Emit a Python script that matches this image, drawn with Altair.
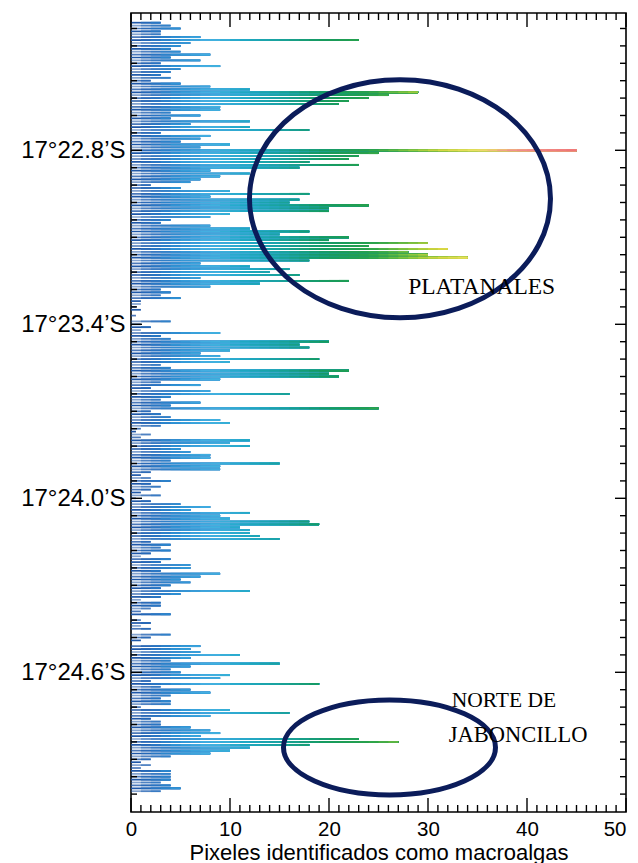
import math
import altair as alt
import pandas as pd

# ---- data -------------------------------------------------------------------
lat_start = 22.36          # minutes of 17°S at first row
lat_step = 0.01            # row spacing (minutes)
values = [
    3, 4, 5, 3, 3, 7, 23, 6, 5, 4,
    5, 8, 4, 7, 3, 9, 5, 4, 3, 4,
    2, 5, 8, 12, 29, 26, 24, 22, 21, 9,
    9, 4, 7, 4, 12, 6, 12, 18, 3, 8,
    7, 5, 10, 7, 45, 25, 23, 22, 18, 23,
    17, 8, 12, 9, 7, 6, 2, 5, 10, 18,
    8, 17, 16, 24, 20, 20, 10, 8, 4, 3,
    8, 12, 18, 15, 22, 20, 30, 24, 32, 28,
    30, 34, 18, 7, 12, 16, 14, 17, 7, 22,
    13, 8, 3, 4, 3, 5, 1, 1, 0.5, 1,
    0, 0.5, 0, 4, 1, 2, 1, 9, 3, 4,
    20, 17, 18, 10, 7, 9, 19, 10, 3, 4,
    22, 20, 21, 9, 3, 7, 2, 8, 16, 4,
    3, 7, 4, 25, 2, 3, 4, 9, 10, 3,
    1, 0.5, 2, 1, 12, 10, 12, 5, 6, 8,
    8, 4, 15, 9, 9, 2, 1, 2, 4, 2,
    3, 2, 1, 3, 0.5, 2, 5, 8, 6, 12,
    9, 10, 18, 19, 11, 12, 12, 13, 15, 2,
    4, 3, 4, 2, 1, 4, 3, 6, 6, 3,
    9, 7, 5, 6, 4, 3, 12, 5, 3, 1,
    3, 3, 2, 1, 4, 0, 1, 2, 1, 2,
    0, 4, 2, 1, 0, 7, 6, 7, 11, 6,
    4, 15, 6, 4, 5, 10, 9, 2, 19, 3,
    6, 8, 4, 3, 4, 4, 1, 10, 16, 8,
    2, 3, 3, 6, 8, 9, 7, 23, 27, 18,
    12, 10, 8, 4, 2, 1, 2, 1, 4, 4,
    4, 4, 3, 4, 5, 3,
]
row_shade = [1.0, 0.55, 0.8]   # alternating row lightness seen in the figure

x_major = [0, 10, 20, 30, 40, 50]
x_minor = [v for v in range(1, 50) if v % 10]
y_major = [22.8, 23.4, 24.0, 24.6]
y_minor = [round(22.8 + 0.06 * k, 2) for k in range(-7, 38) if k % 10]

color_stops = [0, 2, 4.5, 8, 11, 15, 19, 24, 28, 31, 35, 38, 45]
color_range = ["#1d4f9e", "#2670c0", "#2f95d6", "#48b3e3", "#1fa8c6", "#19a29a",
               "#159a5e", "#2aa24a", "#8cc63c", "#d8d640", "#ede36a", "#f29090", "#ef7373"]

ell_x = [27.17, 26.11]
ell_y = [22.967, 24.859]
ell_rx_px = [150.5, 106]
ell_ry_px = [119, 47.5]

ann_text = ["PLATANALES", "NORTE DE", "JABONCILLO"]
ann_x = [28.0, 32.4, 32.1]
ann_y = [23.272, 24.700, 24.817]
ann_size = [23.5, 21.5, 22.5]

X_DOMAIN = [0, 50]
Y_DOMAIN = [22.3266, 25.0817]
W, H = 495, 799

# ---- segments (each bar coloured along its length) ---------------------------
rows = []
for i, v in enumerate(values):
    lat = round(lat_start + i * lat_step, 4)
    for k in range(int(math.ceil(v))):
        rows.append({"lat": lat, "x0": k, "x1": v,
                     "c": k + 0.5 if k + 1 <= v else (k + v) / 2,
                     "o": row_shade[i % 3]})
seg = pd.DataFrame(rows)

xs = alt.Scale(domain=X_DOMAIN, nice=False, zero=False)
ys = alt.Scale(domain=Y_DOMAIN, nice=False, zero=False, reverse=True)

AX = alt.Axis(
    values=x_major, ticks=False, tickSize=0, domain=False, grid=False,
    labelFontSize=20.5, labelFont="Liberation Sans", labelPadding=7,
    labelFlush=False, labelColor="black",
    labelAlign=alt.condition("datum.value == 50", alt.value("right"), alt.value("center")),
    title="Pixeles identificados como macroalgas",
    titleFont="Liberation Sans", titleFontSize=22, titleFontWeight="normal",
    titleColor="black", titleY=47, titleBaseline="alphabetic")
AY = alt.Axis(
    values=y_major, ticks=False, tickSize=0, domain=False, grid=False,
    labelFontSize=24, labelFont="Liberation Sans", labelPadding=6,
    labelColor="black", title=None,
    labelExpr="'17°' + format(datum.value, '.1f') + '’S'")

bars = alt.Chart(seg).mark_rule(strokeWidth=1.7, strokeCap="butt").encode(
    x=alt.X("x0:Q", scale=xs, axis=AX),
    x2="x1:Q",
    y=alt.Y("lat:Q", scale=ys, axis=AY),
    color=alt.Color("c:Q", scale=alt.Scale(domain=color_stops, range=color_range,
                                           interpolate="rgb"), legend=None),
    opacity=alt.Opacity("o:Q", scale=None, legend=None),
)

def xtick(vals, y0, y1):
    return alt.Chart(pd.DataFrame({"v": vals})).mark_rule(
        color="black", strokeWidth=1.4).encode(
        x=alt.X("v:Q", scale=xs, axis=AX), y=alt.value(y0), y2=alt.value(y1))

def ytick(vals, x0, x1):
    return alt.Chart(pd.DataFrame({"v": vals})).mark_rule(
        color="black", strokeWidth=1.4).encode(
        y=alt.Y("v:Q", scale=ys, axis=AY), x=alt.value(x0), x2=alt.value(x1))

ticks = [
    xtick(x_major, H, H - 14), xtick(x_minor, H, H - 7),
    xtick(x_major, 0, 14), xtick(x_minor, 0, 7),
    ytick(y_major, 0, 11), ytick(y_minor, 0, 6),
    ytick(y_major, W, W - 11), ytick(y_minor, W, W - 6),
]

def ell_path(r):
    k = 0.5523
    return (f"M 1 0 C 1 {k*r:.4f} {k:.4f} {r:.4f} 0 {r:.4f} "
            f"C {-k:.4f} {r:.4f} -1 {k*r:.4f} -1 0 "
            f"C -1 {-k*r:.4f} {-k:.4f} {-r:.4f} 0 {-r:.4f} "
            f"C {k:.4f} {-r:.4f} 1 {-k*r:.4f} 1 0 Z")

ellipses = []
for ex, ey, rx, ry in zip(ell_x, ell_y, ell_rx_px, ell_ry_px):
    ellipses.append(
        alt.Chart(pd.DataFrame({"x": [ex], "y": [ey]})).mark_point(
            shape=ell_path(ry / rx), size=(2 * rx) ** 2, filled=False,
            stroke="#0b1c5a", strokeWidth=5, opacity=1).encode(
            x=alt.X("x:Q", scale=xs, axis=AX),
            y=alt.Y("y:Q", scale=ys, axis=AY)))

ann_df = pd.DataFrame({"t": ann_text, "x": ann_x, "y": ann_y, "s": ann_size})
texts = alt.Chart(ann_df).mark_text(
    font="Liberation Serif", align="left", baseline="middle",
    color="black").encode(
    x=alt.X("x:Q", scale=xs, axis=AX), y=alt.Y("y:Q", scale=ys, axis=AY),
    size=alt.Size("s:Q", scale=None, legend=None),
    text="t:N")

chart = alt.layer(bars, *ticks, *ellipses, texts).properties(
    width=W, height=H,
    autosize=alt.AutoSizeParams(type="none"),
    padding={"left": 123, "top": 5, "right": 4, "bottom": 51},
).configure_view(stroke="black", strokeWidth=1.6)

chart.save("out.html", embed_options={"renderer": "svg", "actions": False})
